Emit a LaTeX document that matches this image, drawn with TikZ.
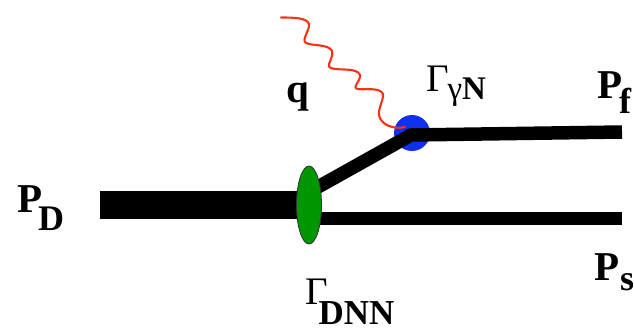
\documentclass[tikz,border=0pt]{standalone}
\usepackage{fontspec}
\setmainfont{Liberation Serif}
\usetikzlibrary{shapes.geometric}
\newcommand{\fsz}[1]{\fontsize{#1}{#1}\selectfont}
\definecolor{vblue}{RGB}{16,48,240}
\definecolor{vgreen}{RGB}{0,150,0}
\definecolor{vred}{RGB}{250,50,20}
\tikzset{
  x=1pt,y=-1pt,
  lbl/.style={anchor=base west,inner sep=0pt,outer sep=0pt,font=\bfseries\fsz{41}},
  thin line/.style={line width=13.5pt,black,line cap=butt,line join=miter},
  thick line/.style={line width=28pt,black,line cap=butt},
  photon/.style={draw=vred,line width=2.1pt,line cap=round,line join=round}
}
\begin{document}
\begin{tikzpicture}
\useasboundingbox (0,0) rectangle (634,329);
\node[circle,fill=vblue,minimum size=36pt,inner sep=0pt] (vgn) at (412,133) {};
\coordinate (vtx) at (411,135);
\coordinate (dnn) at (309,205);
\coordinate (dnns) at (309,218.5);
\coordinate (dnnd) at (309,192);
\coordinate (pdend) at (100,205);
\coordinate (pfend) at (622,132);
\coordinate (psend) at (622,218.5);
\coordinate (qstart) at (281,17.5);
\coordinate (qend) at (405,127);
\draw[thick line] (pdend) -- (dnn);
\draw[thin line] (dnnd) -- (vtx) -- (pfend);
\draw[thin line] (dnns) -- (psend);
\node[ellipse,draw=black!80,line width=0.8pt,fill=vgreen,minimum width=25pt,minimum height=78pt,inner sep=0pt] (green) at (dnn) {};
\draw[photon] (qstart) .. controls (295,17.5) and (307,18) .. (309,24)
  .. controls (310,30) and (301,40) .. (306,43)
  .. controls (312,46) and (329,44) .. (332,51)
  .. controls (334,58) and (325,66) .. (331,68)
  .. controls (338,71) and (357,67) .. (360,75)
  .. controls (361,81) and (351,88) .. (358,89)
  .. controls (365,90) and (380,87) .. (383,94)
  .. controls (384,101) and (375,112) .. (381,120)
  .. controls (386,127) and (397,129) .. (qend);
\node[lbl] (pd) at (17,212) {P\kern-4pt\raisebox{-18pt}{\fsz{36}D}};
\node[lbl] (pf) at (597,98) {P\kern-3pt\raisebox{-15pt}{\fsz{36}f}};
\node[lbl] (ps) at (594,280) {P\kern1pt\raisebox{-10pt}{\fsz{36}s}};
\node[lbl] (q) at (286,102) {q};
\node[lbl] (gg) at (426,91) {\fsz{39}\mdseries Γ\kern-1pt\raisebox{-8pt}{\fsz{33}γ}\raisebox{-8pt}{\kern0pt\bfseries\fsz{33}N}};
\node[lbl] (gd) at (305,304) {\fsz{39}\mdseries Γ\kern-9pt\raisebox{-20pt}{\bfseries\fsz{35}DNN}};
\end{tikzpicture}
\end{document}
